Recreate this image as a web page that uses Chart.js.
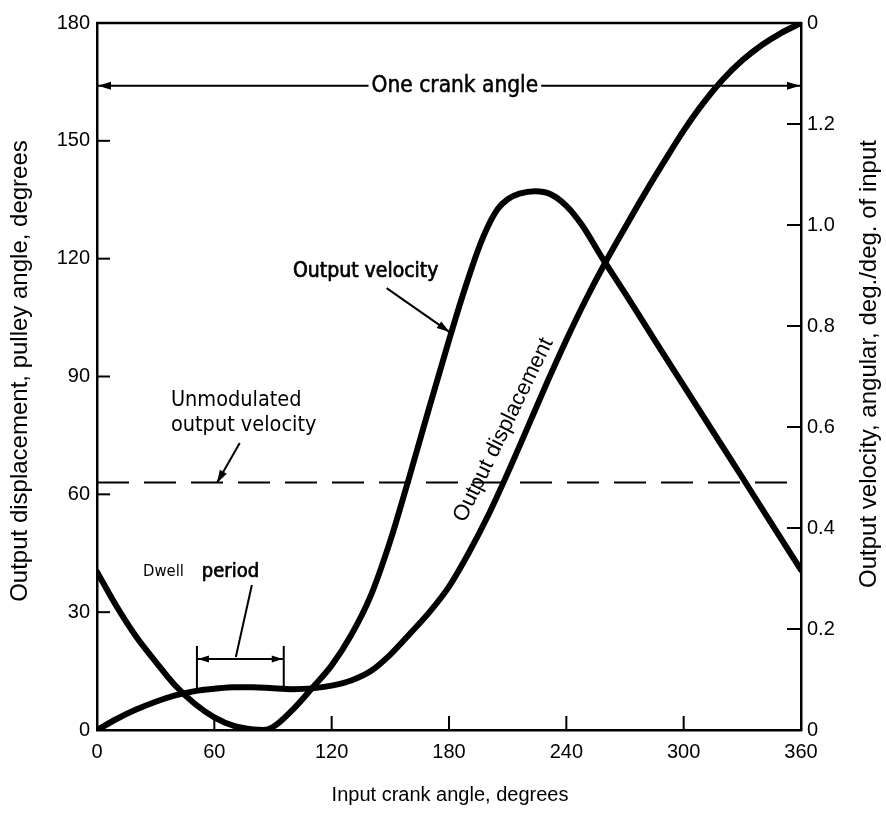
<!DOCTYPE html>
<html><head><meta charset="utf-8">
<script src="https://cdn.jsdelivr.net/npm/chart.js@4.4.1/dist/chart.umd.min.js"></script>
<style>html,body{margin:0;padding:0;background:#fff;}#wrap{width:886px;height:828px;}</style>
</head><body><div id="wrap"><canvas id="c" width="886" height="828"></canvas></div>
<script>
// ---------- data ----------
const xTickValues = [0, 60, 120, 180, 240, 300, 360];
const leftTickValues = [0, 30, 60, 90, 120, 150, 180];
const rightTickValues = [0, 0.2, 0.4, 0.6, 0.8, 1.0, 1.2, 1.4];
const rightTickLabels = ['0', '0.2', '0.4', '0.6', '0.8', '1.0', '1.2', '0'];

// Output displacement (input crank angle, deg -> pulley angle, deg)
const displacementAngles = [0, 10, 20, 30, 40, 50, 60, 70, 80, 90, 100, 110, 120, 130, 140, 150, 160, 170, 180, 190, 200, 210, 220, 230, 240, 250, 260, 270, 280, 290, 300, 310, 320, 330, 340, 350, 360];
const displacementDegrees = [0, 2.8, 5.2, 7.2, 8.8, 9.9, 10.5, 10.9, 10.9, 10.6, 10.4, 10.6, 11.3, 12.6, 15.0, 19.2, 24.5, 30.0, 36.5, 45.0, 54.6, 65.4, 76.8, 88.3, 99.3, 109.6, 119.1, 127.9, 136.5, 144.7, 152.6, 159.6, 165.6, 170.5, 174.4, 177.5, 180];

// Output velocity (input crank angle, deg -> deg./deg. of input)
const velocityAngles = [0, 10, 20, 30, 40, 50, 60, 70, 80, 85, 90, 100, 110, 120, 130, 140, 150, 160, 170, 180, 185, 190, 195, 200, 205, 210, 216, 224, 232, 240, 248, 258, 270, 285, 300, 315, 330, 345, 360];
const velocityRatio = [0.313, 0.245, 0.185, 0.135, 0.088, 0.052, 0.025, 0.008, 0.001, 0, 0.006, 0.04, 0.083, 0.128, 0.188, 0.266, 0.375, 0.505, 0.64, 0.772, 0.836, 0.896, 0.952, 0.998, 1.032, 1.051, 1.062, 1.067, 1.061, 1.038, 1.0, 0.937, 0.865, 0.773, 0.682, 0.591, 0.5, 0.408, 0.317];

// Unmodulated output velocity
const unmodulatedAngles = [0, 360];
const unmodulatedVelocity = [0.49, 0.49];

// ---------- text ----------
const texts = {
  xTitle: 'Input crank angle, degrees',
  leftTitle: 'Output displacement, pulley angle, degrees',
  rightTitle: 'Output velocity, angular, deg./deg. of input',
  crank: 'One crank angle',
  velocity: 'Output velocity',
  displacement: 'Output displacement',
  unmod1: 'Unmodulated',
  unmod2: 'output velocity',
  dwell: 'Dwell',
  period: 'period'
};

// ---------- annotation placement (data units: crank deg, left-axis deg) ----------
const place = {
  crank: { y: 164, x0: 0, x1: 360, cx: 183 },
  velocity: { cx: 137.4, cy: 116.6, ax0: 148.1, ay0: 112.5, ax1: 180.3, ay1: 101.3 },
  displacement: { cx: 207.9, cy: 76.4, angle: -64 },
  unmod: { x: 37.8, y1: 84.0, y2: 77.6, ax0: 73.0, ay0: 73.1, ax1: 61.3, ay1: 62.9 },
  dwell: { x: 23.5, px: 53.6, y: 40.2, lx0: 79.2, ly0: 36.9, lx1: 71.0, ly1: 18.6, d0: 51.1, d1: 95.5, dTop: 21.4, dBot: 10.7, dY: 18.1 }
};

const SANS = '"Liberation Sans", Arial, sans-serif';
const NARROW = '"DejaVu Sans Condensed", "Liberation Sans", sans-serif';

function toXY(xs, ys) { return xs.map((x, i) => ({ x: x, y: ys[i] })); }

function arrowHead(ctx, x0, y0, x1, y1, len, half) {
  const a = Math.atan2(y1 - y0, x1 - x0);
  ctx.beginPath();
  ctx.moveTo(x1, y1);
  ctx.lineTo(x1 - len * Math.cos(a) + half * Math.sin(a), y1 - len * Math.sin(a) - half * Math.cos(a));
  ctx.lineTo(x1 - len * Math.cos(a) - half * Math.sin(a), y1 - len * Math.sin(a) + half * Math.cos(a));
  ctx.closePath();
  ctx.fill();
}
function line(ctx, x0, y0, x1, y1, w) {
  ctx.lineWidth = w; ctx.beginPath(); ctx.moveTo(x0, y0); ctx.lineTo(x1, y1); ctx.stroke();
}
function semiBold(ctx, t, x, y, sw) {
  ctx.fillText(t, x, y);
  ctx.lineWidth = sw; ctx.strokeText(t, x, y);
}

const decor = {
  id: 'decor',
  afterDraw(chart) {
    const ctx = chart.ctx;
    const sx = chart.scales.x, sy = chart.scales.y, sy2 = chart.scales.y2;
    const X = v => sx.getPixelForValue(v), Y = v => sy.getPixelForValue(v);
    const a = chart.chartArea;
    ctx.save();
    ctx.strokeStyle = '#000'; ctx.fillStyle = '#000'; ctx.lineCap = 'butt'; ctx.lineJoin = 'round';
    // top frame line
    line(ctx, a.left - 1, a.top, a.right + 1, a.top, 2.5);
    // inward tick marks
    xTickValues.slice(1, -1).forEach(v => line(ctx, X(v), a.bottom, X(v), a.bottom - 14, 2));
    leftTickValues.slice(1, -1).forEach(v => line(ctx, a.left, Y(v), a.left + 13, Y(v), 2));
    rightTickValues.slice(1, -1).forEach(v => { const p = sy2.getPixelForValue(v); line(ctx, a.right, p, a.right - 14, p, 2); });

    // axis titles
    ctx.textAlign = 'center'; ctx.textBaseline = 'middle';
    ctx.font = '20px ' + SANS;
    ctx.fillText(texts.xTitle, 450, 795);
    ctx.font = '24px ' + SANS;
    ctx.save(); ctx.translate(20, 371); ctx.rotate(-Math.PI / 2); ctx.fillText(texts.leftTitle, 0, 0); ctx.restore();
    ctx.save(); ctx.translate(869, 364); ctx.rotate(-Math.PI / 2); ctx.fillText(texts.rightTitle, 0, 0); ctx.restore();

    // One crank angle
    const c = place.crank;
    ctx.font = '22.5px ' + NARROW;
    const tw = ctx.measureText(texts.crank).width;
    const cy = Y(c.y), cx = X(c.cx);
    semiBold(ctx, texts.crank, cx, cy, 0.5);
    line(ctx, X(c.x0), cy, cx - tw / 2 - 3, cy, 2);
    line(ctx, cx + tw / 2 + 3, cy, X(c.x1), cy, 2);
    arrowHead(ctx, cx, cy, X(c.x0) + 1, cy, 13, 4);
    arrowHead(ctx, cx, cy, X(c.x1) - 1, cy, 13, 4);

    // Output velocity
    const v = place.velocity;
    ctx.font = '21px ' + NARROW;
    semiBold(ctx, texts.velocity, X(v.cx), Y(v.cy), 0.7);
    line(ctx, X(v.ax0), Y(v.ay0), X(v.ax1), Y(v.ay1), 2);
    arrowHead(ctx, X(v.ax0), Y(v.ay0), X(v.ax1), Y(v.ay1), 13, 4);

    // Output displacement (rotated)
    const d = place.displacement;
    ctx.save(); ctx.translate(X(d.cx), Y(d.cy)); ctx.rotate(d.angle * Math.PI / 180);
    ctx.font = '22px ' + SANS; ctx.fillText(texts.displacement, 0, 0); ctx.restore();

    // Unmodulated output velocity
    const u = place.unmod;
    ctx.font = '21.5px ' + NARROW; ctx.textAlign = 'left';
    ctx.fillText(texts.unmod1, X(u.x), Y(u.y1));
    ctx.fillText(texts.unmod2, X(u.x), Y(u.y2));
    line(ctx, X(u.ax0), Y(u.ay0), X(u.ax1), Y(u.ay1), 2);
    arrowHead(ctx, X(u.ax0), Y(u.ay0), X(u.ax1), Y(u.ay1), 13, 4);

    // Dwell period
    const w = place.dwell;
    ctx.font = '16.5px ' + NARROW; ctx.fillText(texts.dwell, X(w.x), Y(w.y));
    ctx.font = '20px ' + NARROW; semiBold(ctx, texts.period, X(w.px), Y(w.y), 0.7);
    line(ctx, X(w.lx0), Y(w.ly0), X(w.lx1), Y(w.ly1), 2);
    line(ctx, X(w.d0), Y(w.dTop), X(w.d0), Y(w.dBot), 2);
    line(ctx, X(w.d1), Y(w.dTop), X(w.d1), Y(w.dBot), 2);
    line(ctx, X(w.d0), Y(w.dY), X(w.d1), Y(w.dY), 2);
    arrowHead(ctx, X(w.d1), Y(w.dY), X(w.d0) + 1, Y(w.dY), 11, 3.5);
    arrowHead(ctx, X(w.d0), Y(w.dY), X(w.d1) - 1, Y(w.dY), 11, 3.5);
    ctx.restore();
  }
};

const tickFont = { family: SANS, size: 20 };
const noGrid = { display: false, drawTicks: false };
new Chart(document.getElementById('c'), {
  type: 'line',
  data: {
    datasets: [
      { label: 'Output displacement', data: toXY(displacementAngles, displacementDegrees), yAxisID: 'y',
        borderColor: '#000', borderWidth: 6, pointRadius: 0, cubicInterpolationMode: 'monotone', fill: false, borderCapStyle: 'round' },
      { label: 'Output velocity', data: toXY(velocityAngles, velocityRatio), yAxisID: 'y2',
        borderColor: '#000', borderWidth: 6, pointRadius: 0, cubicInterpolationMode: 'monotone', fill: false, borderCapStyle: 'round' },
      { label: 'Unmodulated output velocity', data: toXY(unmodulatedAngles, unmodulatedVelocity), yAxisID: 'y2',
        borderColor: '#000', borderWidth: 2, borderDash: [32, 15], pointRadius: 0, fill: false }
    ]
  },
  options: {
    responsive: false, animation: false, devicePixelRatio: 1,
    layout: { padding: { top: 23, left: 0, right: 0, bottom: 0 } },
    plugins: { legend: { display: false }, tooltip: { enabled: false } },
    scales: {
      x: { type: 'linear', position: 'bottom', min: 0, max: 360,
        afterFit(s) { s.height = 98; },
        afterBuildTicks(s) { s.ticks = xTickValues.map(v => ({ value: v })); },
        grid: noGrid, border: { display: true, color: '#000', width: 2.5 },
        ticks: { color: '#000', font: tickFont, padding: 10, maxRotation: 0, autoSkip: false } },
      y: { type: 'linear', position: 'left', min: 0, max: 180,
        afterFit(s) { s.width = 97; },
        afterBuildTicks(s) { s.ticks = leftTickValues.map(v => ({ value: v })); },
        grid: noGrid, border: { display: true, color: '#000', width: 2.5 },
        ticks: { color: '#000', font: tickFont, padding: 7, autoSkip: false } },
      y2: { type: 'linear', position: 'right', min: 0, max: 1.4,
        afterFit(s) { s.width = 85; },
        afterBuildTicks(s) { s.ticks = rightTickValues.map(v => ({ value: v })); },
        grid: noGrid, border: { display: true, color: '#000', width: 2.5 },
        ticks: { color: '#000', font: tickFont, padding: 6, autoSkip: false,
          callback: (val, i) => rightTickLabels[i] } }
    }
  },
  plugins: [decor]
});
</script></body></html>
